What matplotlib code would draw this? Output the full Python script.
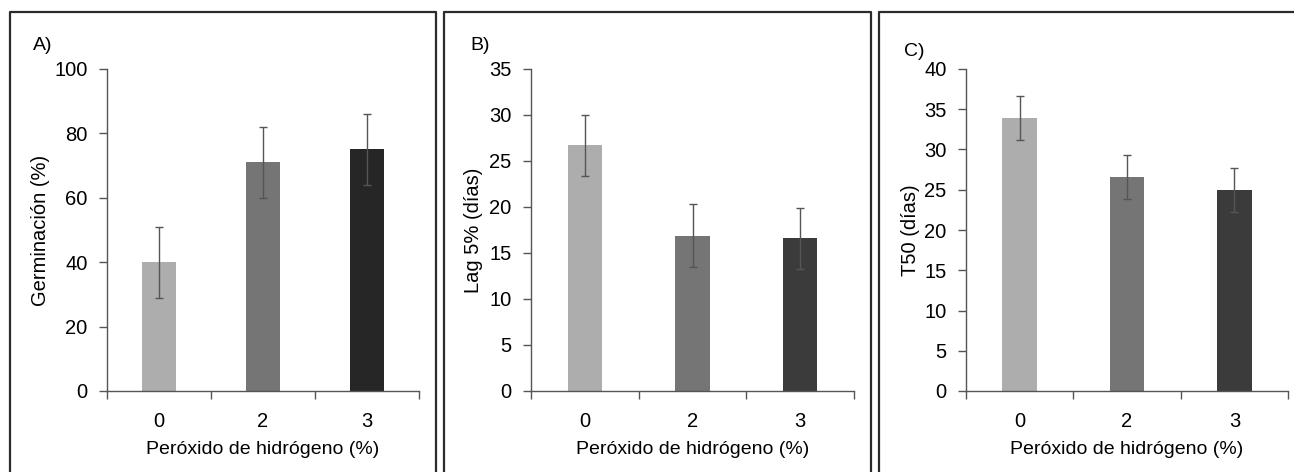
import numpy as np
import matplotlib.pyplot as plt
from matplotlib.lines import Line2D

plt.rcParams['font.family'] = ['Liberation Sans', 'DejaVu Sans']

# Datos
categorias = ['0', '2', '3']
germinacion = [40, 71, 75]
germinacion_err = [11, 11, 11]
lag5 = [26.7, 16.9, 16.6]
lag5_err = [3.35, 3.4, 3.3]
t50 = [33.9, 26.6, 25.0]
t50_err = [2.75, 2.7, 2.75]

W, H = 1294, 472
fig = plt.figure(figsize=(W / 100, H / 100), dpi=100)

def px_axes(left, right, top, bottom):
    return fig.add_axes([left / W, 1 - bottom / H, (right - left) / W, (bottom - top) / H])

paneles = [
    dict(pos=(107, 419, 69, 391), y=germinacion, e=germinacion_err, ymax=100, step=20,
         ylabel='Germinación (%)', letra='A)', lx=43, ly=46, ylx=50,
         colores=['#adadad', '#757575', '#262626']),
    dict(pos=(531, 854, 69, 391), y=lag5, e=lag5_err, ymax=35, step=5,
         ylabel='Lag 5% (días)', letra='B)', lx=480, ly=46, ylx=483,
         colores=['#adadad', '#757575', '#3b3b3b']),
    dict(pos=(966, 1288, 69, 391), y=t50, e=t50_err, ymax=40, step=5,
         ylabel='T50 (días)', letra='C)', lx=914, ly=52, ylx=920,
         colores=['#adadad', '#757575', '#3b3b3b']),
]

eje = '#555555'
x = np.arange(len(categorias))
for p in paneles:
    ax = px_axes(*p['pos'])
    ax.bar(x, p['y'], width=0.32, color=p['colores'], zorder=2)
    ax.errorbar(x, p['y'], yerr=p['e'], fmt='none', ecolor='#555555',
                elinewidth=1, capsize=3, capthick=1, zorder=3)
    ax.set_xlim(-0.5, len(categorias) - 0.5)
    ax.set_ylim(0, p['ymax'])
    ax.set_yticks(np.arange(0, p['ymax'] + 0.1, p['step']))
    ax.set_xticks(x)
    ax.set_xticklabels(categorias)
    ax.set_xticks(np.arange(-0.5, len(categorias)), minor=True)
    ax.tick_params(axis='x', which='major', length=0, pad=15, labelsize=14.5)
    ax.tick_params(axis='x', which='minor', length=6, width=1, color=eje, direction='out')
    ax.tick_params(axis='y', length=6, width=1, color=eje, pad=8, labelsize=14.5)
    for s in ['top', 'right']:
        ax.spines[s].set_visible(False)
    for s in ['left', 'bottom']:
        ax.spines[s].set_color(eje)
        ax.spines[s].set_linewidth(1)
    ax.set_xlabel('Peróxido de hidrógeno (%)', fontsize=14, labelpad=7)
    ax.set_ylabel(p['ylabel'], fontsize=14.5)
    ax.yaxis.set_label_coords((p['ylx'] - p['pos'][0]) / (p['pos'][1] - p['pos'][0]), 0.5)
    fig.text(p['lx'] / W, 1 - p['ly'] / H, p['letra'], fontsize=14, ha='center', va='center')

# Marcos de cada panel (abiertos por abajo)
marcos = [(9.5, 435.5), (444, 870.5), (879, 1300)]
ytop = 1 - 12 / H
for l, r in marcos:
    xs = [l / W, l / W, r / W, r / W]
    ys = [0, ytop, ytop, 0]
    fig.add_artist(Line2D(xs, ys, transform=fig.transFigure, color='#2b2b2b', lw=1.6))

fig.savefig('out.png', dpi=100)
